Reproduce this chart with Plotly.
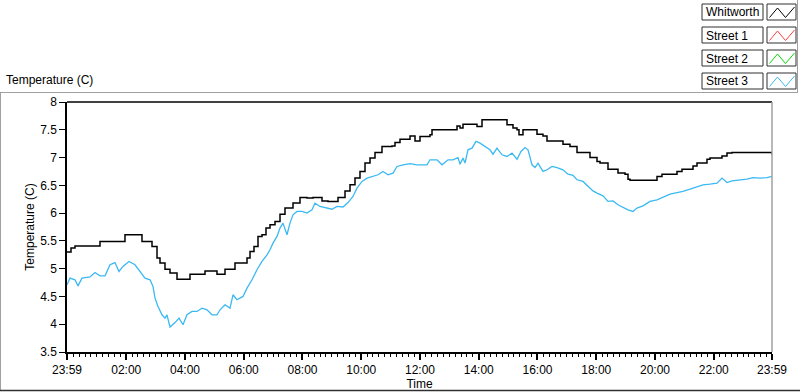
import plotly.graph_objects as go

# ---------------- data (hours elapsed since 23:59, temperature in C) ----------------
whitworth_hours = [0.000, 0.136, 0.272, 1.055, 1.123, 1.872, 1.974, 2.485, 2.553, 2.757,
                   2.894, 3.064, 3.166, 3.336, 3.506, 3.745, 4.085, 4.187, 4.596, 4.698,
                   4.936, 5.106, 5.277, 5.379, 5.617, 5.719, 6.060, 6.128, 6.230, 6.366,
                   6.502, 6.638, 6.774, 6.911, 7.081, 7.251, 7.421, 7.591, 7.694, 7.932,
                   8.170, 8.374, 8.545, 8.681, 8.885, 9.123, 9.226, 9.464, 9.634, 9.804,
                   9.974, 10.145, 10.315, 10.485, 10.723, 11.064, 11.166, 11.336, 11.574, 11.677,
                   11.847, 12.017, 12.357, 12.426, 13.140, 13.277, 13.379, 13.481, 13.889, 13.957,
                   14.128, 14.809, 14.979, 15.183, 15.319, 15.387, 15.523, 15.864, 16.000, 16.204,
                   16.340, 16.783, 16.885, 17.123, 17.226, 17.362, 17.702, 17.804, 18.043, 18.145,
                   18.383, 18.417, 18.655, 18.757, 18.996, 19.098, 19.166, 20.017, 20.085, 20.255,
                   20.630, 20.766, 20.936, 21.209, 21.311, 21.447, 21.719, 21.787, 21.889, 22.230,
                   22.298, 22.468, 22.638, 23.932, 24.000]
whitworth_temp = [5.30, 5.37, 5.41, 5.41, 5.49, 5.49, 5.61, 5.61, 5.49, 5.49,
                  5.40, 5.19, 5.10, 4.99, 4.92, 4.81, 4.81, 4.90, 4.90, 4.96,
                  4.96, 4.90, 4.90, 4.99, 4.99, 5.10, 5.10, 5.19, 5.31, 5.40,
                  5.58, 5.61, 5.73, 5.79, 5.85, 5.98, 6.09, 6.09, 6.18, 6.28,
                  6.27, 6.28, 6.28, 6.22, 6.21, 6.21, 6.28, 6.40, 6.51, 6.63,
                  6.75, 6.90, 6.99, 7.09, 7.20, 7.21, 7.27, 7.33, 7.33, 7.39,
                  7.30, 7.38, 7.41, 7.50, 7.50, 7.57, 7.53, 7.60, 7.60, 7.56,
                  7.68, 7.68, 7.59, 7.53, 7.50, 7.41, 7.50, 7.50, 7.42, 7.39,
                  7.30, 7.30, 7.24, 7.20, 7.20, 7.09, 7.09, 7.00, 6.93, 6.90,
                  6.90, 6.79, 6.79, 6.72, 6.70, 6.61, 6.59, 6.59, 6.66, 6.70,
                  6.70, 6.75, 6.79, 6.79, 6.85, 6.90, 6.90, 6.97, 6.99, 6.99,
                  7.03, 7.08, 7.09, 7.09, 7.05]

street3_hours = [0.000, 0.102, 0.272, 0.374, 0.511, 0.783, 0.953, 1.123, 1.294, 1.464,
                 1.634, 1.770, 1.906, 2.111, 2.315, 2.485, 2.655, 2.826, 2.928, 2.996,
                 3.098, 3.234, 3.336, 3.404, 3.506, 3.677, 3.813, 3.949, 4.085, 4.255,
                 4.426, 4.596, 4.766, 4.936, 5.106, 5.209, 5.379, 5.549, 5.651, 5.787,
                 5.991, 6.128, 6.298, 6.468, 6.638, 6.809, 6.911, 7.013, 7.149, 7.251,
                 7.353, 7.489, 7.591, 7.694, 7.830, 8.000, 8.170, 8.340, 8.443, 8.613,
                 8.851, 9.021, 9.191, 9.396, 9.566, 9.736, 9.872, 10.043, 10.213, 10.417,
                 10.587, 10.757, 10.928, 11.098, 11.234, 11.438, 11.677, 11.915, 12.255, 12.357,
                 12.596, 12.766, 12.970, 13.140, 13.311, 13.379, 13.481, 13.549, 13.651, 13.787,
                 13.923, 14.060, 14.230, 14.400, 14.502, 14.638, 14.809, 14.979, 15.149, 15.319,
                 15.455, 15.591, 15.694, 15.830, 15.932, 16.034, 16.204, 16.340, 16.511, 16.681,
                 16.885, 17.055, 17.226, 17.362, 17.566, 17.736, 17.906, 18.043, 18.247, 18.417,
                 18.587, 18.757, 18.928, 19.098, 19.268, 19.404, 19.609, 19.847, 20.085, 20.289,
                 20.528, 20.766, 20.970, 21.209, 21.447, 21.651, 21.889, 22.128, 22.298, 22.468,
                 22.638, 22.911, 23.149, 23.353, 23.591, 23.830, 24.000]
street3_temp = [4.71, 4.83, 4.80, 4.69, 4.83, 4.85, 4.93, 4.87, 4.87, 5.07,
                5.11, 4.95, 5.04, 5.13, 5.07, 4.95, 4.83, 4.80, 4.68, 4.47,
                4.32, 4.17, 4.11, 4.17, 3.95, 4.03, 4.11, 3.99, 4.17, 4.23,
                4.23, 4.29, 4.26, 4.17, 4.17, 4.26, 4.35, 4.29, 4.53, 4.44,
                4.50, 4.65, 4.80, 4.98, 5.13, 5.25, 5.34, 5.46, 5.58, 5.73,
                5.82, 5.61, 5.82, 5.97, 6.03, 6.03, 6.00, 6.06, 6.18, 6.12,
                6.09, 6.07, 6.12, 6.11, 6.19, 6.30, 6.45, 6.57, 6.63, 6.66,
                6.69, 6.75, 6.69, 6.72, 6.84, 6.87, 6.89, 6.87, 6.87, 6.96,
                6.96, 6.87, 6.96, 6.96, 7.00, 6.88, 6.99, 6.90, 7.14, 7.17,
                7.29, 7.26, 7.20, 7.14, 7.06, 7.17, 7.05, 7.02, 7.08, 6.97,
                7.11, 7.18, 7.14, 6.87, 6.82, 6.90, 6.75, 6.78, 6.84, 6.82,
                6.78, 6.70, 6.68, 6.60, 6.57, 6.48, 6.40, 6.36, 6.31, 6.21,
                6.22, 6.15, 6.10, 6.06, 6.03, 6.09, 6.13, 6.21, 6.24, 6.28,
                6.34, 6.37, 6.39, 6.43, 6.48, 6.51, 6.52, 6.54, 6.63, 6.55,
                6.58, 6.60, 6.61, 6.64, 6.63, 6.64, 6.66]

series_names = ["Whitworth", "Street 1", "Street 2", "Street 3"]
series_colors = ["#000000", "#ff4040", "#00dd00", "#3bb9f2"]

x_tick_vals = [0, 2.0167, 4.0167, 6.0167, 8.0167, 10.0167, 12.0167, 14.0167,
               16.0167, 18.0167, 20.0167, 22.0167, 24]
x_tick_text = ["23:59", "02:00", "04:00", "06:00", "08:00", "10:00", "12:00", "14:00",
               "16:00", "18:00", "20:00", "22:00", "23:59"]

# ---------------- layout geometry (pixels) ----------------
W, H = 800, 392
L, R, T, B = 67, 772, 102, 352
FONT = "Liberation Sans"


def px(x):
    return (x - L) / (R - L)


def py(y):
    return (B - y) / (B - T)


fig = go.Figure()
fig.add_trace(go.Scatter(x=whitworth_hours, y=whitworth_temp, mode="lines",
                         line=dict(color=series_colors[0], width=1.5, shape="hv"),
                         name=series_names[0], showlegend=False))
fig.add_trace(go.Scatter(x=street3_hours, y=street3_temp, mode="lines",
                         line=dict(color=series_colors[3], width=1.3),
                         name=series_names[3], showlegend=False))

shapes = []
annotations = []

# outer panel frame
shapes.append(dict(type="line", xref="paper", yref="paper", x0=px(0), x1=px(798), y0=py(92.5), y1=py(92.5),
                   line=dict(color="#a0a0a0", width=1)))
shapes.append(dict(type="line", xref="paper", yref="paper", x0=px(0.5), x1=px(0.5), y0=py(92.5), y1=py(391),
                   line=dict(color="#a0a0a0", width=1)))
shapes.append(dict(type="line", xref="paper", yref="paper", x0=px(0), x1=px(800), y0=py(390.5), y1=py(390.5),
                   line=dict(color="#303030", width=1.5)))
shapes.append(dict(type="line", xref="paper", yref="paper", x0=px(797.5), x1=px(797.5), y0=py(0), y1=py(92.5),
                   line=dict(color="#a0a0a0", width=1)))
# plot area top and right border
shapes.append(dict(type="line", xref="paper", yref="paper", x0=0, x1=1, y0=1, y1=1,
                   line=dict(color="#000000", width=1.5)))
shapes.append(dict(type="line", xref="paper", yref="paper", x0=1, x1=1, y0=0, y1=1,
                   line=dict(color="#a0a0a0", width=1.5)))

# custom legend
for i, (name, color) in enumerate(zip(series_names, series_colors)):
    top = 4 + 23 * i
    bot = top + 16
    shapes.append(dict(type="rect", xref="paper", yref="paper", x0=px(702), x1=px(763),
                       y0=py(bot), y1=py(top), line=dict(color="#303030", width=1), fillcolor="white"))
    shapes.append(dict(type="rect", xref="paper", yref="paper", x0=px(767), x1=px(796),
                       y0=py(bot), y1=py(top), line=dict(color="#303030", width=1), fillcolor="white"))
    zx = [769.5, 777.5, 785.5, 794.5]
    zy = [top + 13.5, top + 4, top + 13.5, top + 3]
    path = "M {} {} L {} {} L {} {} L {} {}".format(
        px(zx[0]), py(zy[0]), px(zx[1]), py(zy[1]), px(zx[2]), py(zy[2]), px(zx[3]), py(zy[3]))
    shapes.append(dict(type="path", xref="paper", yref="paper", path=path,
                       line=dict(color=color, width=1)))
    annotations.append(dict(text=name, xref="paper", yref="paper", x=px(704), y=py(top + 8.5),
                            xanchor="left", yanchor="middle", showarrow=False,
                            font=dict(family=FONT, size=12, color="#000")))

# panel caption
annotations.append(dict(text="Temperature (C)", xref="paper", yref="paper", x=px(4), y=py(80),
                        xanchor="left", yanchor="middle", showarrow=False,
                        font=dict(family=FONT, size=12, color="#000")))

fig.update_layout(
    width=W, height=H,
    margin=dict(l=L, r=W - R, t=T, b=H - B, pad=0),
    paper_bgcolor="white", plot_bgcolor="white",
    font=dict(family=FONT, size=12, color="#000"),
    shapes=shapes, annotations=annotations, showlegend=False,
    xaxis=dict(range=[0, 24], tickvals=x_tick_vals, ticktext=x_tick_text,
               showgrid=False, zeroline=False, showline=True, linecolor="#000", linewidth=1.5,
               ticks="outside", ticklen=6, tickwidth=2, tickcolor="#000",
               minor=dict(tick0=0.0167, dtick=0.2, ticks="outside", ticklen=3, tickwidth=1,
                          tickcolor="#000", showgrid=False),
               tickfont=dict(family=FONT, size=12, color="#000"),
               title=dict(text="Time", standoff=2, font=dict(family=FONT, size=12, color="#000")),
               automargin=False),
    yaxis=dict(range=[3.5, 8], dtick=0.5, tick0=3.5, showgrid=False, zeroline=False,
               showline=True, linecolor="#000", linewidth=1.5,
               ticks="outside", ticklen=6, tickwidth=1, tickcolor="#000",
               tickfont=dict(family=FONT, size=12, color="#000"),
               title=dict(text="Temperature (C)", standoff=3,
                          font=dict(family=FONT, size=12, color="#000")),
               automargin=False),
)

fig.write_html("out.html", config={"displayModeBar": False},
               post_script="document.body.style.margin='0';document.body.style.overflow='hidden';")
